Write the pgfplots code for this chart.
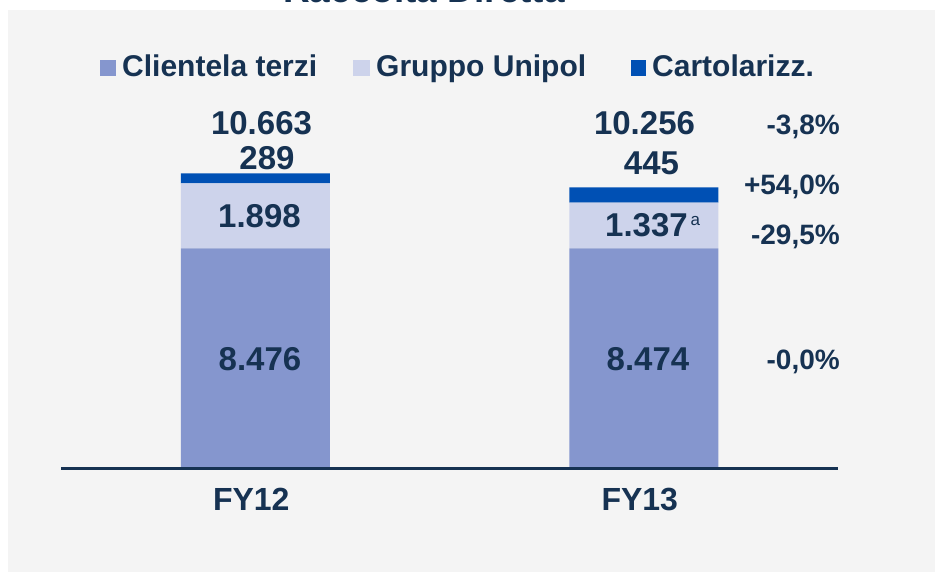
\documentclass[border=0pt]{standalone}
\usepackage{pgfplots}
\pgfplotsset{compat=1.18}
\usepackage{fontspec}
\setmainfont{Liberation Sans}
\definecolor{navy}{RGB}{22,50,82}
\definecolor{bg}{RGB}{244,244,244}
\definecolor{cli}{RGB}{133,150,206}
\definecolor{gru}{RGB}{205,211,235}
\definecolor{car}{RGB}{0,80,180}
\begin{document}
\begin{tikzpicture}[x=1pt,y=1pt]
\useasboundingbox (0,0) rectangle (935,572);
\fill[white] (0,0) rectangle (935,572);
\fill[bg] (8,0) rectangle (935,562);
\begin{scope}
\clip (0,0) rectangle (935,572);
\node[anchor=base, inner sep=0pt, font=\fontsize{37}{44}\selectfont\bfseries, text=navy] at (424,569) {Raccolta Diretta};
\end{scope}
\begin{axis}[at={(61pt,103.5pt)}, anchor=south west, scale only axis,
  width=777pt, height=368.4pt, xmin=-0.5, xmax=1.5, ymin=2060, ymax=12800,
  ybar stacked, bar width=149pt, axis on top,
  axis x line*=bottom, axis y line=none,
  x axis line style={draw=navy, line width=2.2pt, -},
  xtick={0,1}, xticklabels={FY12,FY13}, xtick style={draw=none},
  xticklabel style={font=\fontsize{32}{38}\selectfont\bfseries, text=navy, anchor=base, yshift=-42.5pt, xshift=-4pt, inner sep=0pt},
  ]
\addplot[fill=cli, draw=none] coordinates {(0,8476) (1,8474)};
\addplot[fill=gru, draw=none] coordinates {(0,1898) (1,1337)};
\addplot[fill=car, draw=none] coordinates {(0,289) (1,445)};
\end{axis}
\tikzset{v/.style={anchor=base, inner sep=0pt, text=navy, font=\fontsize{33}{40}\selectfont\bfseries},
  p/.style={anchor=base east, inner sep=0pt, text=navy, font=\fontsize{28}{34}\selectfont\bfseries},
  l/.style={anchor=base west, inner sep=0pt, text=navy, font=\fontsize{30}{36}\selectfont\bfseries}}
% legend
\fill[cli] (100,496) rectangle (116,512);
\node[l] at (122,495) {Clientela terzi};
\fill[gru] (353,496) rectangle (370,512);
\node[l] at (376,495) {Gruppo Unipol};
\fill[car] (631,496) rectangle (646,512);
\node[l] at (652,495) {Cartolarizz.};
% values
\node[v] at (261.5,437.5) {10.663};
\node[v] at (267,402) {289};
\node[v] at (259.5,344) {1.898};
\node[v] at (260,201) {8.476};
\node[v] at (644.5,437) {10.256};
\node[v] at (651.5,397) {445};
\node[v] at (646.5,335) {1.337\rlap{\raisebox{11pt}{\fontsize{17}{20}\selectfont\mdseries\,a}}};
\node[v] at (648,201) {8.474};
% percentages
\node[p] at (840,437) {-3,8\%};
\node[p] at (840,377) {+54,0\%};
\node[p] at (840,327) {-29,5\%};
\node[p] at (840,202) {-0,0\%};
\end{tikzpicture}
\end{document}
